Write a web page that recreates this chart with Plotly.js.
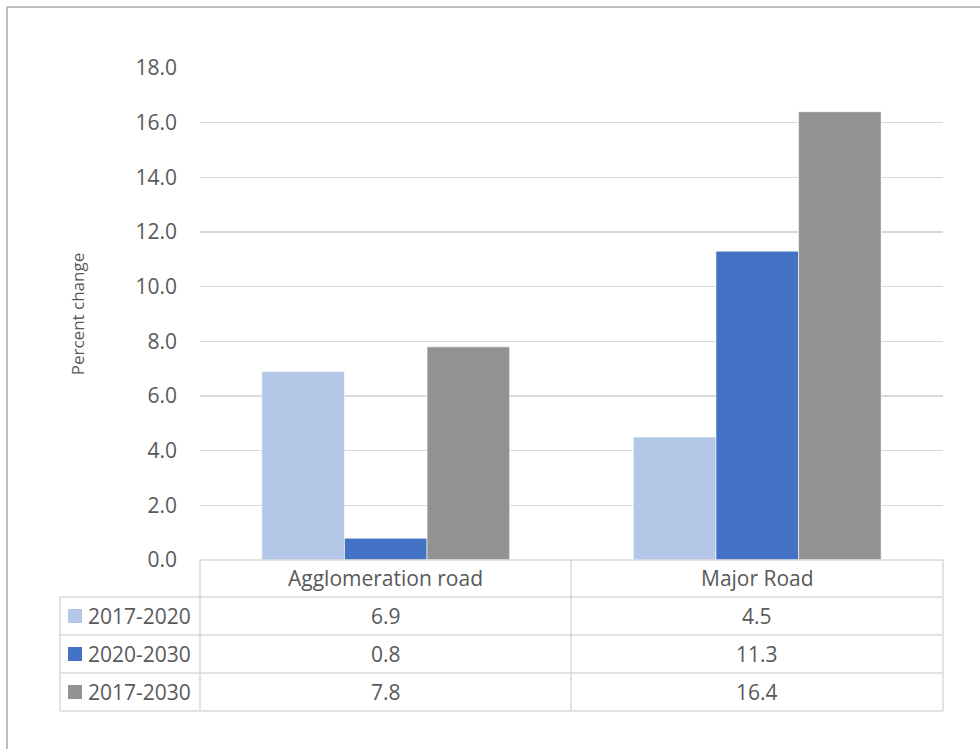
<!DOCTYPE html>
<html>
<head>
<meta charset="utf-8">
<script src="https://cdn.plot.ly/plotly-3.0.1.min.js"></script>
<style>html,body{margin:0;padding:0;background:#fff;}#chart{width:980px;height:749px;}</style>
</head>
<body>
<div id="chart"></div>
<script>
// ---- data ----
var categories = ["Agglomeration road", "Major Road"];
var seriesNames = ["2017-2020", "2020-2030", "2017-2030"];
var s2017_2020 = [6.9, 4.5];
var s2020_2030 = [0.8, 11.3];
var s2017_2030 = [7.8, 16.4];
var yTicks = [0, 2, 4, 6, 8, 10, 12, 14, 16, 18];

// ---- styling ----
var colors = ["#B4C7E7", "#4472C4", "#929292"];
var seriesValues = [s2017_2020, s2020_2030, s2017_2030];
var FONT = "Open Sans, sans-serif";
var TXT = "#595959";
var LINE = "#d9d9d9";
var FS = 21;

// plot geometry (pixels) for converting table layout into paper coords
var W = 980, H = 749, mL = 200, mR = 37, mT = 68, mB = 189;
var pw = W - mL - mR, ph = H - mT - mB;
function px(x) { return (x - mL) / pw; }
function py(y) { return (H - mB - y) / ph; }

var traces = seriesNames.map(function (n, i) {
  return {
    type: "bar", name: n, x: categories, y: seriesValues[i],
    marker: { color: colors[i], line: { color: "rgba(255,255,255,0.6)", width: 1 } },
    hoverinfo: "x+y+name"
  };
});

var shapes = [];
var annotations = [];
function hline(y, x0, x1, col, w) {
  shapes.push({ type: "line", xref: "paper", yref: "paper", x0: px(x0), x1: px(x1), y0: py(y), y1: py(y), line: { color: col || LINE, width: w || 1.5 } });
}
function vline(x, y0, y1, col, w) {
  shapes.push({ type: "line", xref: "paper", yref: "paper", x0: px(x), x1: px(x), y0: py(y0), y1: py(y1), line: { color: col || LINE, width: w || 1.5 } });
}
// table grid
var rowEdges = [597, 635, 673, 711];
hline(560, 200, 943);
rowEdges.forEach(function (y) { hline(y, 60, 943); });
vline(60, 597, 711);
vline(200, 560, 711);
vline(571, 560, 711);
vline(943, 560, 711);
// outer chart border (top & left visible)
hline(7, 7, 1100, "#a6a6a6", 1.5);
vline(7, 7, 760, "#a6a6a6", 1.5);

// header row: category names
categories.forEach(function (c) {
  annotations.push({ xref: "x", yref: "paper", x: c, y: py(578), text: c, showarrow: false, font: { family: FONT, size: FS, color: TXT }, xanchor: "center", yanchor: "middle" });
});
// body rows
var rowCenters = [616, 654, 692];
seriesNames.forEach(function (n, i) {
  var yc = rowCenters[i];
  shapes.push({ type: "rect", xref: "paper", yref: "paper", x0: px(68), x1: px(82), y0: py(yc + 7), y1: py(yc - 7), fillcolor: colors[i], line: { width: 0 } });
  annotations.push({ xref: "paper", yref: "paper", x: px(86), y: py(yc), text: n, showarrow: false, font: { family: FONT, size: FS, color: TXT }, xanchor: "left", yanchor: "middle" });
  categories.forEach(function (c, j) {
    annotations.push({ xref: "x", yref: "paper", x: c, y: py(yc), text: seriesValues[i][j].toFixed(1), showarrow: false, font: { family: FONT, size: FS, color: TXT }, xanchor: "center", yanchor: "middle" });
  });
});

var layout = {
  width: W, height: H,
  margin: { l: mL, r: mR, t: mT, b: mB, pad: 0 },
  paper_bgcolor: "#fff", plot_bgcolor: "#fff",
  barmode: "group", bargap: 0.333, bargroupgap: 0,
  showlegend: false,
  font: { family: FONT, color: TXT },
  xaxis: { type: "category", showticklabels: false, showgrid: false, zeroline: false, showline: false, ticks: "", fixedrange: true },
  yaxis: {
    range: [0, 18], tickvals: yTicks, ticktext: yTicks.map(function (v) { return v.toFixed(1); }),
    showgrid: true, gridcolor: LINE, gridwidth: 1.5, zeroline: false, showline: false, ticks: "",
    ticklabelstandoff: 22, tickfont: { family: FONT, size: FS, color: TXT },
    title: { text: "Percent change", font: { family: FONT, size: 17, color: TXT }, standoff: 46 },
    fixedrange: true
  },
  shapes: shapes,
  annotations: annotations
};

Plotly.newPlot("chart", traces, layout, { displayModeBar: false, staticPlot: true });
</script>
</body>
</html>
